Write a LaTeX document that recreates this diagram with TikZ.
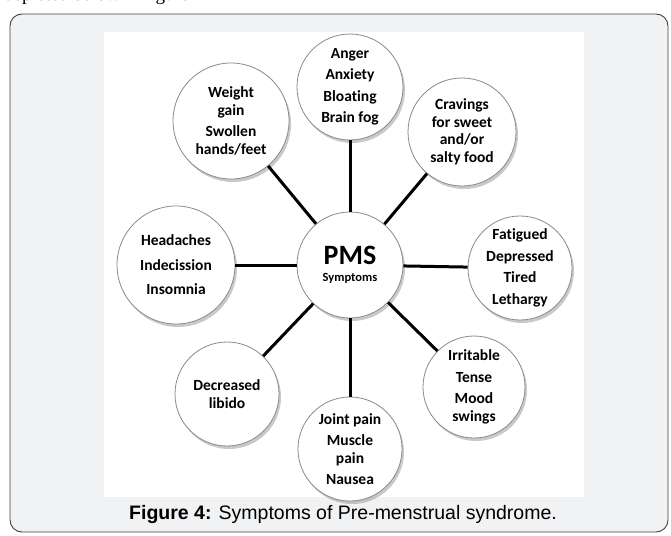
\documentclass[tikz,border=0pt]{standalone}
\usepackage{fontspec}
\setmainfont{Carlito}[Ligatures=NoCommon]
\newfontfamily\capfont{Liberation Sans}
\newfontfamily\serfont{Liberation Serif}
\usetikzlibrary{shadows}
\definecolor{panel}{HTML}{F1F2F4}
\definecolor{rim}{HTML}{8A8A8A}
\tikzset{
  sym/.style={circle, draw=rim, line width=0.8pt, fill=white, inner sep=0pt,
    minimum size=#1, align=center, font=\bfseries\fontsize{15.5}{17.5}\selectfont,
    drop shadow={shadow xshift=2pt, shadow yshift=-3pt, opacity=0.35, fill=black!60}},
  spoke/.style={line width=3pt, black},
}
\begin{document}
\begin{tikzpicture}[x=1pt,y=-1pt]
\useasboundingbox (0,0) rectangle (671,535);
\node[anchor=base west, font=\serfont\fontsize{19}{20}\selectfont, inner sep=0pt] (top) at (4,0.5) {depicted below in figure};
\draw[draw=black!75, fill=panel, line width=0.9pt, rounded corners=12pt] (10,14) rectangle (668,532);
\fill[white] (104,32) rectangle (584,497);
% nodes
\node[sym=106pt] (c) at (350,265) {\fontsize{28}{28}\selectfont PMS\\[-1pt]\fontsize{12.5}{13}\selectfont Symptoms};
\node[sym=106pt] (a) at (350,87) {Anger\\[4pt]Anxiety\\[4pt]Bloating\\[4pt]Brain fog};
\node[sym=108pt] (b) at (462,132) {Cravings\\for sweet\\and/or\\salty food};
\node[sym=104pt] (d) at (520,268) {Fatigued\\[4pt]Depressed\\[4pt]Tired\\[4pt]Lethargy};
\node[sym=102pt] (e) at (474,387) {Irritable\\[4pt]Tense\\[4pt]Mood\\swings};
\node[sym=104pt] (f) at (350,449) {Joint pain\\[4pt]Muscle\\pain\\[4pt]Nausea};
\node[sym=104pt] (g) at (227,394) {Decreased\\libido};
\node[sym=118pt] (h) at (176,265) {Headaches\\[7pt]Indecission\\[7pt]Insomnia};
\node[sym=116pt] (i) at (231,121) {Weight\\gain\\[4pt]Swollen\\hands/feet};
% spokes
\foreach \n in {a,b,d,e,f,g,h,i} \draw[spoke] (c) -- (\n);
\node[font=\capfont\fontsize{19.5}{21}\selectfont, inner sep=0pt] (cap) at (343,514) {\textbf{Figure 4:} Symptoms of Pre-menstrual syndrome.};
\end{tikzpicture}
\end{document}
